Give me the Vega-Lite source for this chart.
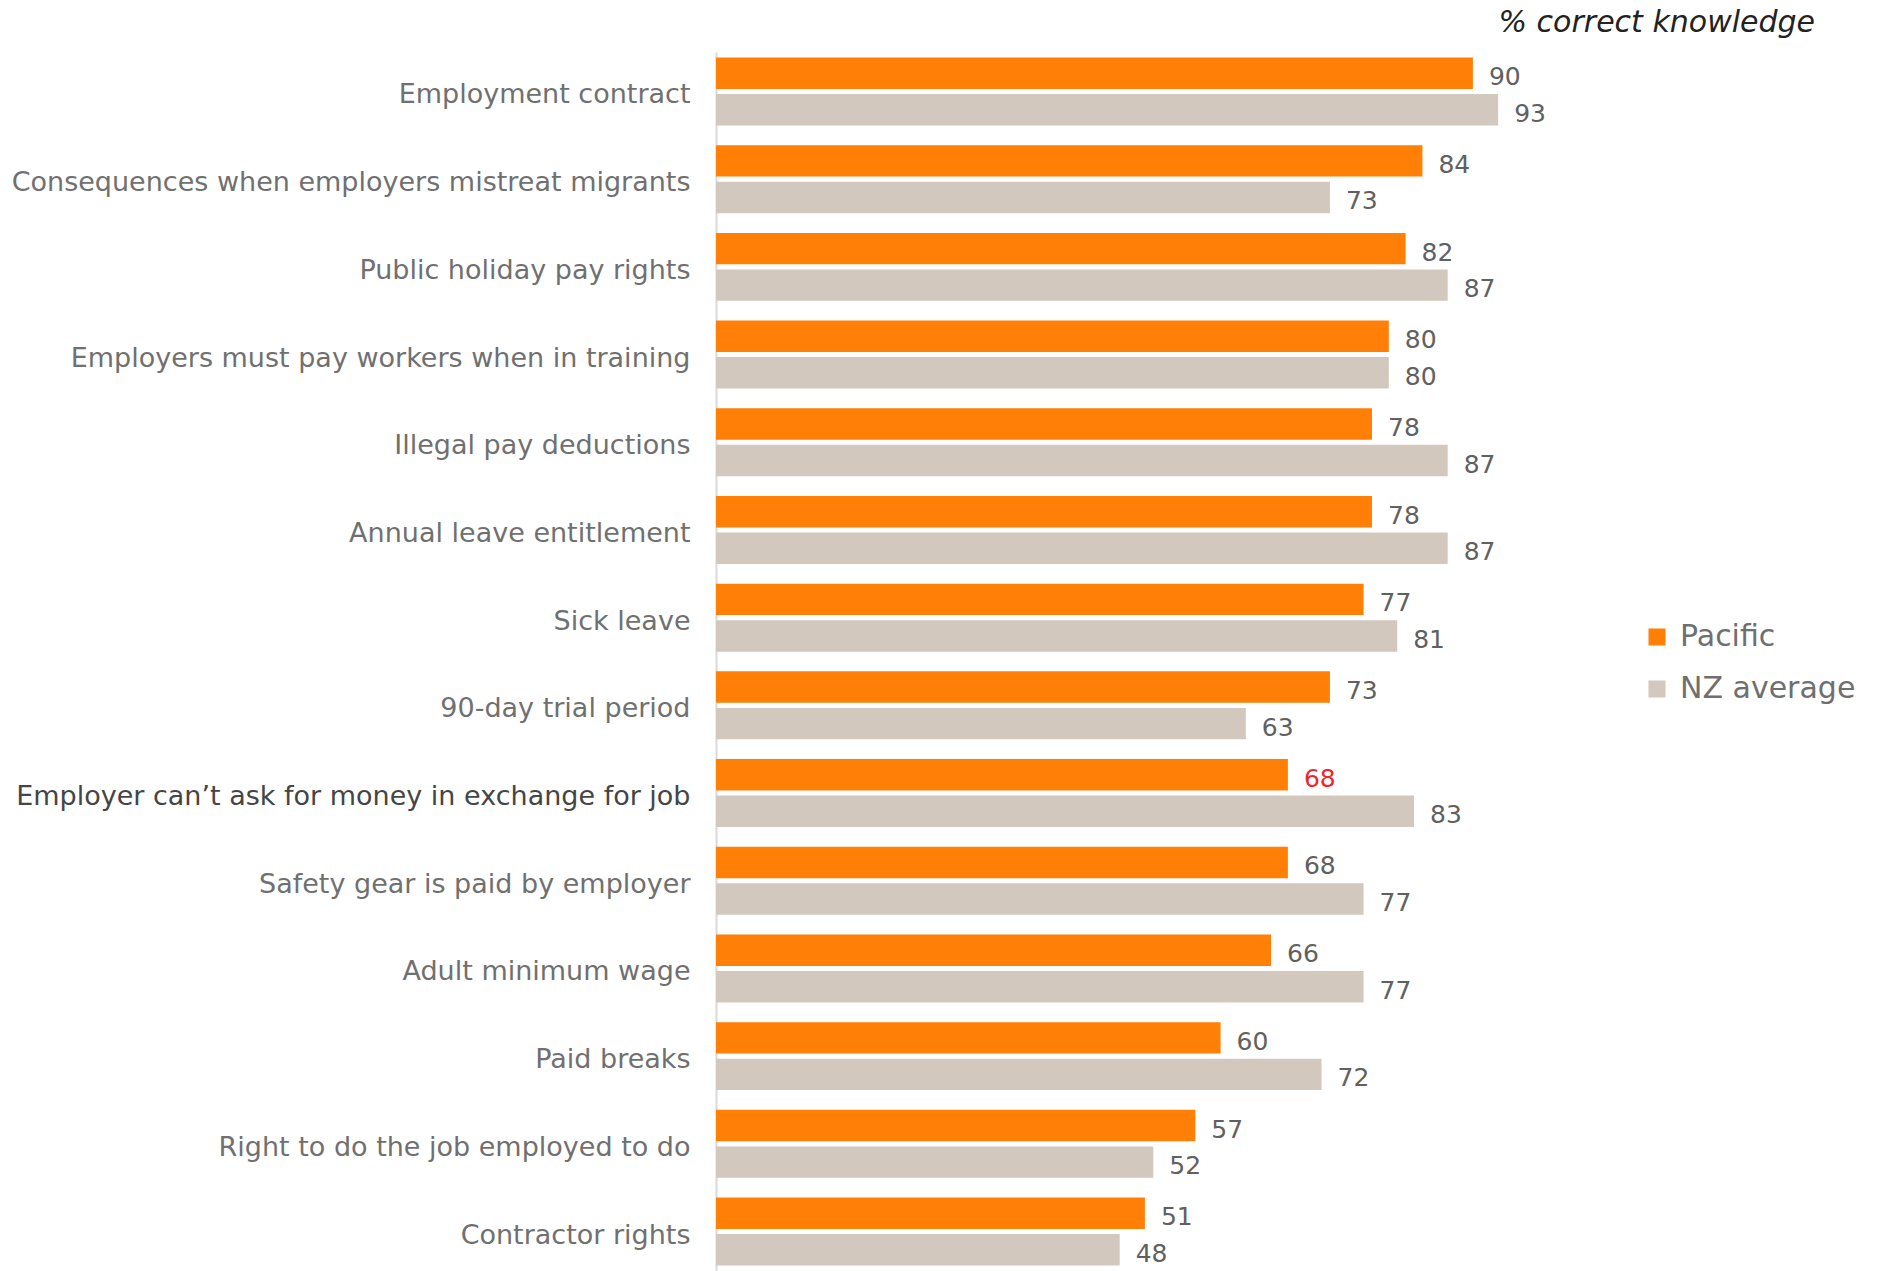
{
  "$schema": "https://vega.github.io/schema/vega-lite/v6.json",
  "autosize": {"type": "none"},
  "padding": {"left": 716, "top": 52, "right": 328, "bottom": 0},
  "width": 841,
  "height": 1219,
  "background": "white",
  "config": {"view": {"stroke": null}},
  "title": {
    "text": "% correct knowledge",
    "anchor": "end",
    "frame": "group",
    "dx": 258,
    "offset": 14,
    "font": "DejaVu Sans",
    "fontSize": 30,
    "fontStyle": "italic",
    "fontWeight": "normal",
    "color": "#222222"
  },
  "data": {
    "values": [
      {"item": "Employment contract", "series": "Pacific", "value": 90},
      {"item": "Employment contract", "series": "NZ average", "value": 93},
      {"item": "Consequences when employers mistreat migrants", "series": "Pacific", "value": 84},
      {"item": "Consequences when employers mistreat migrants", "series": "NZ average", "value": 73},
      {"item": "Public holiday pay rights", "series": "Pacific", "value": 82},
      {"item": "Public holiday pay rights", "series": "NZ average", "value": 87},
      {"item": "Employers must pay workers when in training", "series": "Pacific", "value": 80},
      {"item": "Employers must pay workers when in training", "series": "NZ average", "value": 80},
      {"item": "Illegal pay deductions", "series": "Pacific", "value": 78},
      {"item": "Illegal pay deductions", "series": "NZ average", "value": 87},
      {"item": "Annual leave entitlement", "series": "Pacific", "value": 78},
      {"item": "Annual leave entitlement", "series": "NZ average", "value": 87},
      {"item": "Sick leave", "series": "Pacific", "value": 77},
      {"item": "Sick leave", "series": "NZ average", "value": 81},
      {"item": "90-day trial period", "series": "Pacific", "value": 73},
      {"item": "90-day trial period", "series": "NZ average", "value": 63},
      {"item": "Employer can’t ask for money in exchange for job", "series": "Pacific", "value": 68},
      {"item": "Employer can’t ask for money in exchange for job", "series": "NZ average", "value": 83},
      {"item": "Safety gear is paid by employer", "series": "Pacific", "value": 68},
      {"item": "Safety gear is paid by employer", "series": "NZ average", "value": 77},
      {"item": "Adult minimum wage", "series": "Pacific", "value": 66},
      {"item": "Adult minimum wage", "series": "NZ average", "value": 77},
      {"item": "Paid breaks", "series": "Pacific", "value": 60},
      {"item": "Paid breaks", "series": "NZ average", "value": 72},
      {"item": "Right to do the job employed to do", "series": "Pacific", "value": 57},
      {"item": "Right to do the job employed to do", "series": "NZ average", "value": 52},
      {"item": "Contractor rights", "series": "Pacific", "value": 51},
      {"item": "Contractor rights", "series": "NZ average", "value": 48}
    ]
  },
  "encoding": {
    "y": {
      "field": "item",
      "type": "nominal",
      "sort": null,
      "scale": {"paddingInner": 0.225, "paddingOuter": 0.0625},
      "axis": {
        "title": null,
        "ticks": false,
        "domain": true,
        "domainColor": "#d9d9d9",
        "domainWidth": 2,
        "labelPadding": 26,
        "labelOffset": 4,
        "labelFont": "DejaVu Sans",
        "labelFontSize": 27,
        "labelColor": {"condition": {"test": "indexof(datum.value, 'Employer can') === 0", "value": "#454545"}, "value": "#707070"},
        "labelLimit": 800
      }
    },
    "yOffset": {
      "field": "series",
      "type": "nominal",
      "sort": ["Pacific", "NZ average"],
      "scale": {"paddingInner": 0.14}
    },
    "x": {
      "field": "value",
      "type": "quantitative",
      "scale": {"domain": [0, 100], "nice": false},
      "axis": null
    }
  },
  "layer": [
    {
      "mark": {"type": "bar"},
      "encoding": {
        "color": {
          "field": "series",
          "type": "nominal",
          "sort": ["Pacific", "NZ average"],
          "scale": {"domain": ["Pacific", "NZ average"], "range": ["#ff7f07", "#d3c8bd"]},
          "legend": {
            "title": null,
            "orient": "none",
            "legendX": 926,
            "legendY": 570,
            "symbolType": "square",
            "symbolSize": 290,
            "symbolStrokeWidth": 0,
            "labelFont": "DejaVu Sans",
            "labelFontSize": 30,
            "labelColor": "#6f6f6f",
            "labelLimit": 400,
            "rowPadding": 22,
            "labelOffset": 8
          }
        }
      }
    },
    {
      "mark": {"type": "text", "align": "left", "baseline": "middle", "dx": 16, "dy": 4, "font": "DejaVu Sans", "fontSize": 25},
      "encoding": {
        "text": {"field": "value", "type": "quantitative"},
        "color": {
          "condition": {"test": "indexof(datum.item, 'Employer can') === 0 && datum.series === 'Pacific'", "value": "#f0262b"},
          "value": "#606060"
        }
      }
    }
  ]
}
